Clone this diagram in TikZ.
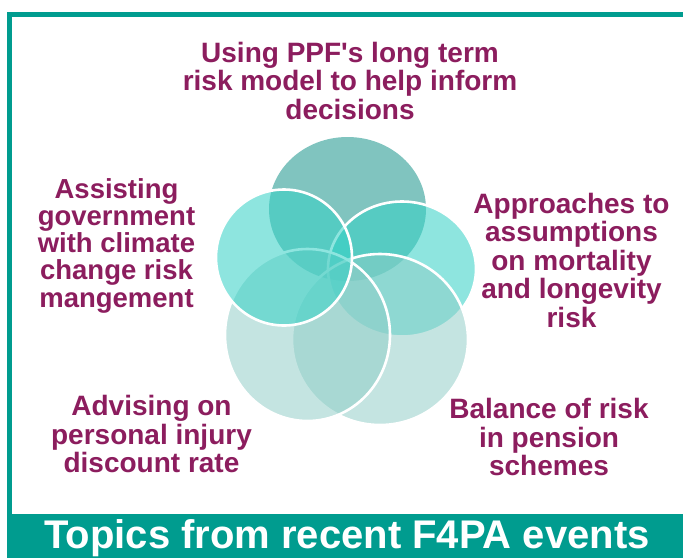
\documentclass[tikz,border=0pt]{standalone}
\usepackage{fontspec}
\setmainfont{Liberation Sans}
\definecolor{frameteal}{HTML}{009C8F}
\definecolor{topictext}{HTML}{8C1D5E}
\definecolor{deepteal}{HTML}{80C4BF}
\definecolor{brightteal}{RGB}{54,209,198}
\definecolor{paleteal}{RGB}{143,205,199}
\begin{document}
\begin{tikzpicture}[x=1pt,y=-1pt,
  topic/.style={font=\bfseries\fontsize{28}{28.5}\selectfont, text=topictext,
    align=center, inner sep=0pt, anchor=north},
  topicsm/.style={topic, font=\bfseries\fontsize{27.5}{27.1}\selectfont},
  brightdisc/.style={fill=brightteal, fill opacity=0.56, draw=white, line width=2.6pt},
  paledisc/.style={fill=paleteal, fill opacity=0.52, draw=white, line width=2.6pt},
  banner/.style={font=\bfseries\fontsize{40}{40}\selectfont, text=white, inner sep=0pt, anchor=base}]
\useasboundingbox (0,0) rectangle (683,558);
\fill[white] (0,0) rectangle (683,558);

% frame: left and top bars, bottom band
\fill[frameteal] (7,12) rectangle (12,558);
\fill[frameteal] (7,12) rectangle (683,17);
\fill[frameteal] (7,514) rectangle (683,558);

% overlapping discs, back to front
\fill[deepteal] (347.5,209) ellipse [x radius=78.5pt, y radius=72pt];
\path[brightdisc] (402,269) ellipse [x radius=74pt, y radius=67.5pt];
\path[paledisc] (380,339.5) ellipse [x radius=88pt, y radius=85.5pt];
\path[paledisc] (307.5,335) ellipse [x radius=82.5pt, y radius=86pt];
\path[brightdisc] (284,257.5) ellipse [x radius=68pt, y radius=68pt];

% topic labels
\node[topic] (ppf) at (350,41.8) {Using PPF\textquotesingle s long term\\risk model to help inform\\decisions};
\node[topicsm] (climate) at (116.5,178.5) {Assisting\\government\\with climate\\change risk\\mangement};
\node[topic] (mortality) at (571.5,192.8) {Approaches to\\assumptions\\on mortality\\and longevity\\risk};
\node[topic] (injury) at (151.5,395.2) {Advising on\\personal injury\\discount rate};
\node[topic] (balance) at (549,398.2) {Balance of risk\\in pension\\schemes};

% banner title
\node[banner] (title) at (347,548) {Topics from recent F4PA events};
\end{tikzpicture}
\end{document}
